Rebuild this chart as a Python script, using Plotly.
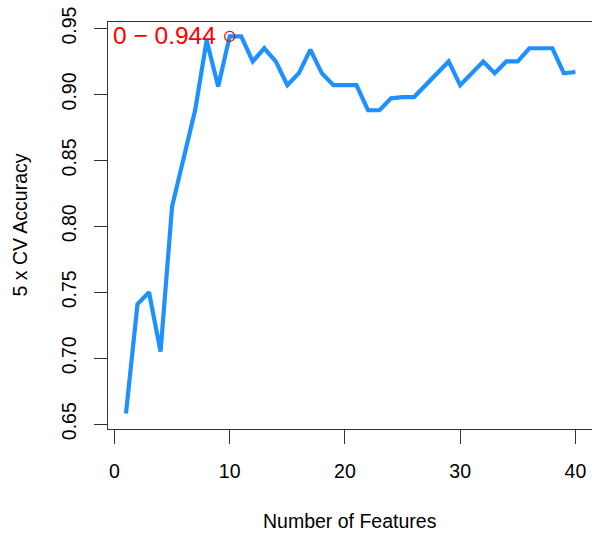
import plotly.graph_objects as go

n_features = list(range(1, 41))
cv_accuracy = [0.658, 0.741, 0.750, 0.705, 0.815, 0.851, 0.888, 0.941, 0.906, 0.944,
               0.944, 0.925, 0.935, 0.925, 0.907, 0.916, 0.934, 0.916, 0.907, 0.907,
               0.907, 0.888, 0.888, 0.897, 0.898, 0.898, 0.907, 0.916, 0.925, 0.907,
               0.916, 0.925, 0.916, 0.925, 0.925, 0.935, 0.935, 0.935, 0.916, 0.917]
best_n = [10]
best_acc = [0.944]
best_label = "0 \u2212 0.944"
x_ticks = [0, 10, 20, 30, 40]
y_ticks = [0.65, 0.70, 0.75, 0.80, 0.85, 0.90, 0.95]

FONT = "Liberation Sans, Arial, Helvetica, sans-serif"

fig = go.Figure()
fig.add_trace(go.Scatter(x=n_features, y=cv_accuracy, mode="lines",
                         line=dict(color="#1E90FF", width=4.2), hoverinfo="skip"))
fig.add_trace(go.Scatter(x=best_n, y=best_acc, mode="markers",
                         marker=dict(symbol="circle-open", size=10, color="#FF0000",
                                     line=dict(width=1.2, color="#FF0000"))))

fig.add_annotation(x=best_n[0], y=best_acc[0], xref="x", yref="y", text=best_label,
                   showarrow=False, xanchor="right", yanchor="middle", xshift=-12, yshift=1,
                   font=dict(family=FONT, size=24.5, color="#FF0000"))

fig.add_annotation(x=0.5, y=0, xref="paper", yref="paper", text="Number of Features",
                   showarrow=False, xanchor="center", yanchor="middle", yshift=-92,
                   font=dict(family=FONT, size=19.5, color="#000000"))
fig.add_annotation(x=0, y=0.5, xref="paper", yref="paper", text="5 x CV Accuracy",
                   showarrow=False, xanchor="center", yanchor="middle", xshift=-89,
                   textangle=-90, font=dict(family=FONT, size=19.5, color="#000000"))

fig.update_layout(
    width=592, height=535,
    margin=dict(l=108, r=0, t=22, b=106, pad=0),
    paper_bgcolor="white", plot_bgcolor="white",
    showlegend=False,
    font=dict(family=FONT, size=19.5, color="#000000"),
    xaxis=dict(range=[-0.56, 41.44], tickvals=x_ticks, ticks="outside", ticklen=14,
               tickwidth=1, tickcolor="#333333", showline=True, linecolor="#333333",
               linewidth=1, mirror=True, showgrid=False, zeroline=False,
               ticklabelstandoff=11, ticklabeloverflow="allow",
               tickfont=dict(family=FONT, size=19.5, color="#000000")),
    yaxis=dict(range=[0.6463, 0.9549], tickvals=y_ticks, tickformat=".2f", ticks="outside",
               ticklen=13, tickwidth=1, tickcolor="#333333", showline=True,
               linecolor="#333333", linewidth=1, showgrid=False, zeroline=False,
               tickangle=-90, ticklabelstandoff=10, ticklabeloverflow="allow",
               tickfont=dict(family=FONT, size=19.5, color="#000000")),
)

# remove the default 8px page margin so the figure fills the window exactly
fig.write_html("out.html",
               config={"displayModeBar": False},
               post_script="document.body.style.margin='0';document.body.style.overflow='hidden';")
